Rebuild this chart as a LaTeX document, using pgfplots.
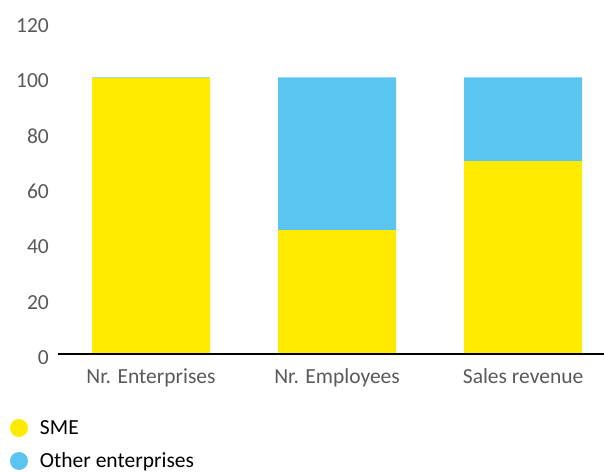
\documentclass[border=0pt]{standalone}
\usepackage{pgfplots}
\pgfplotsset{compat=1.18}
\usepackage{fontspec}
\setmainfont{Carlito}
\definecolor{smeyellow}{HTML}{FFEB00}
\definecolor{otherblue}{HTML}{5BC5F2}
\definecolor{ticktext}{HTML}{595959}
\pgfplotsset{dotlegend/.style={legend image code/.code={\fill[##1] (0bp,0bp) circle (9bp);}}}
\begin{document}
\begin{tikzpicture}
\useasboundingbox (0,0) rectangle (604bp,472bp);
\begin{axis}[
  at={(58bp,118bp)}, anchor=south west,
  scale only axis, width=546bp, height=332bp,
  ybar stacked, bar width=118bp,
  xmin=-0.5, xmax=2.435, ymin=0, ymax=120,
  xtick={0,1,2},
  xticklabels={Nr. Enterprises, Nr. Employees, Sales revenue},
  ytick={0,20,40,60,80,100,120},
  major tick length=0pt,
  separate axis lines,
  axis x line*=bottom, axis y line*=left,
  x axis line style={black, line width=2.2bp},
  y axis line style={draw=none},
  axis on top,
  /pgf/number format/assume math mode=true,
  tick label style={font=\fontsize{21.5bp}{25bp}\selectfont, text=ticktext, inner sep=0pt},
  xticklabel style={anchor=base, yshift=-29bp},
  yticklabel style={anchor=base east, xshift=-9bp, yshift=-10.5bp},
  legend cell align=left,
  legend style={at={(axis description cs:0,0)}, anchor=north west,
    xshift=-48bp, yshift=-65bp, draw=none, fill=none, inner sep=0pt, outer sep=0pt,
    font=\fontsize{21.5bp}{25bp}\selectfont, text=black,
    nodes={inner sep=0pt, text height=15bp, text depth=1.6bp},
    row sep=15bp, /tikz/column sep=12bp},
]
\addplot[fill=smeyellow, draw=none, dotlegend] coordinates {(0,99.8) (1,44.8) (2,69.7)};
\addplot[fill=otherblue, draw=none, dotlegend] coordinates {(0,0.2) (1,55.2) (2,30.3)};
\legend{SME, Other enterprises}
\end{axis}
\end{tikzpicture}
\end{document}
